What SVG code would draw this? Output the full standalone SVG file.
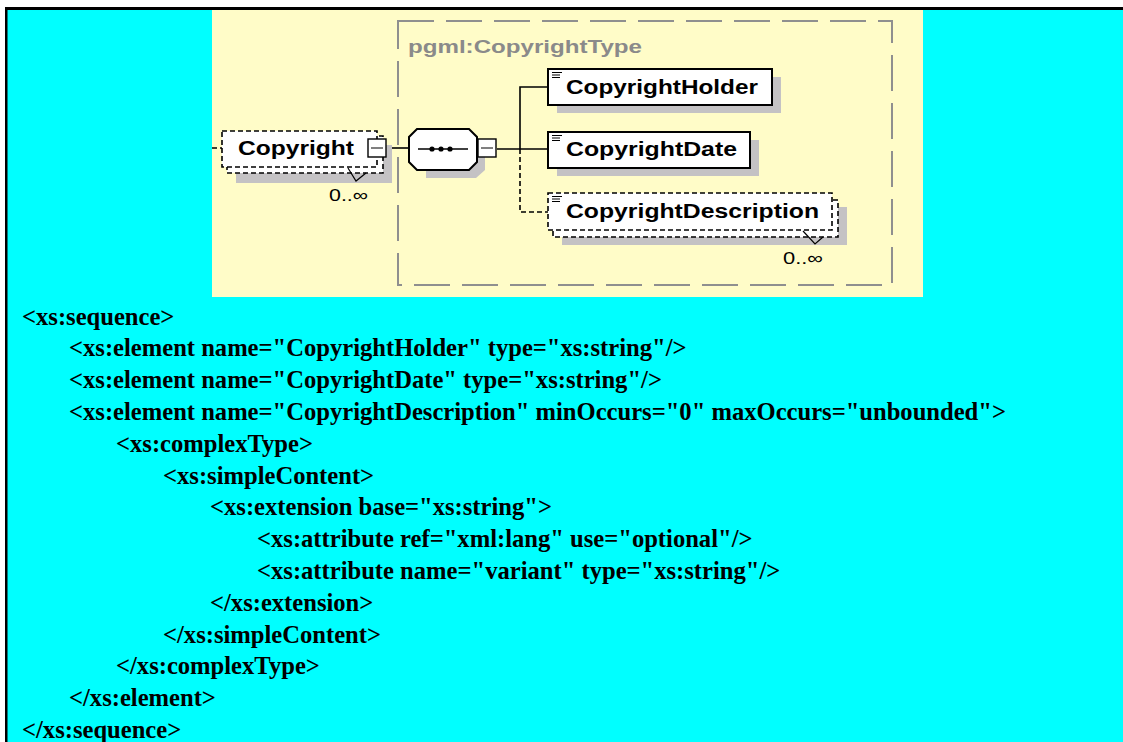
<svg xmlns="http://www.w3.org/2000/svg" width="1123" height="742" viewBox="0 0 1123 742">
  <style>
    .code { font-family: "Liberation Serif", "Times New Roman", serif; font-weight: bold; font-size: 24.6px; fill: #000; }
    .lbl { font-family: "Liberation Sans", Arial, sans-serif; font-weight: bold; font-size: 20px; fill: #000; }
    .occ { font-family: "Liberation Sans", Arial, sans-serif; font-size: 17px; fill: #000; }
    .grp { font-family: "Liberation Sans", Arial, sans-serif; font-weight: bold; font-size: 19px; fill: #8a8a8a; }
    .shadow { fill: #c4c2c4; }
    .box { fill: #fff; stroke: #000; stroke-width: 2; }
    .optbox { fill: #fff; stroke: #000; stroke-width: 1.6; stroke-dasharray: 5 3; }
    .wire { fill: none; stroke: #000; stroke-width: 1.6; }
    .wire-opt { fill: none; stroke: #000; stroke-width: 1.6; stroke-dasharray: 5 3; }
    .btn { fill: #fff; stroke: #000; stroke-width: 1.4; }
    .icon { stroke: #000; stroke-width: 1; }
  </style>

  <!-- page background and frame -->
  <rect x="0" y="0" width="1123" height="742" fill="#fff"/>
  <rect x="5" y="7" width="1118" height="735" fill="#00ffff"/>
  <rect x="5" y="7" width="1118" height="3" fill="#000"/>
  <rect x="5" y="7" width="2.5" height="735" fill="#000"/>

  <!-- schema diagram panel -->
  <rect x="212" y="10" width="711" height="287" fill="#fffcc8"/>

  <!-- complex type frame -->
  <g id="type-frame">
    <rect x="398" y="21" width="494" height="264" fill="none" stroke="#8f8f8f" stroke-width="2" stroke-dasharray="36 12"/>
    <text class="grp" x="408" y="53" textLength="234" lengthAdjust="spacingAndGlyphs">pgml:CopyrightType</text>
  </g>

  <!-- connectors -->
  <g id="connectors">
    <line class="wire-opt" x1="212" y1="148" x2="223" y2="148"/>
    <line class="wire" x1="386" y1="148" x2="409" y2="148"/>
    <line class="wire" x1="497" y1="149" x2="548" y2="149"/>
    <polyline class="wire" points="548,87 520,87 520,149"/>
    <polyline class="wire-opt" points="520,149 520,212 548,212"/>
  </g>

  <!-- Copyright element (0..unbounded, optional) -->
  <g id="node-copyright">
    <rect class="shadow" x="236" y="145" width="156" height="38"/>
    <rect class="optbox" x="227" y="136" width="156" height="37"/>
    <rect class="optbox" x="222" y="131" width="155" height="36"/>
    <polyline fill="none" stroke="#000" stroke-width="1.2" points="348,168 356,181 366,173"/>
    <text class="lbl" x="238" y="155" textLength="116" lengthAdjust="spacingAndGlyphs">Copyright</text>
    <rect class="btn" x="368" y="139" width="18" height="18"/>
    <line class="icon" x1="371" y1="148" x2="383" y2="148"/>
    <text class="occ" x="329" y="201" textLength="39" lengthAdjust="spacingAndGlyphs">0..∞</text>
  </g>

  <!-- sequence compositor -->
  <g id="node-sequence">
    <polygon class="shadow" points="426,137 477,137 485,145 485,170 476,178 426,178"/>
    <polygon class="box" points="417,129 469,129 477,137 477,162 469,170 417,170 409,162 409,137"/>
    <line x1="418" y1="149" x2="468" y2="149" stroke="#000" stroke-width="1.4"/>
    <circle cx="432" cy="149" r="2.6" fill="#000"/>
    <circle cx="441" cy="149" r="2.6" fill="#000"/>
    <circle cx="450" cy="149" r="2.6" fill="#000"/>
    <rect class="btn" x="478" y="139" width="18" height="18"/>
    <line class="icon" x1="481" y1="148" x2="493" y2="148"/>
  </g>

  <!-- CopyrightHolder element -->
  <g id="node-holder">
    <rect class="shadow" x="557" y="77" width="224" height="36"/>
    <rect class="box" x="548" y="69" width="224" height="36"/>
    <line class="icon" x1="552" y1="72.5" x2="562" y2="72.5"/>
    <line class="icon" x1="552" y1="75" x2="560" y2="75"/>
    <line class="icon" x1="552" y1="77.5" x2="560" y2="77.5"/>
    <text class="lbl" x="566" y="94" textLength="192" lengthAdjust="spacingAndGlyphs">CopyrightHolder</text>
  </g>

  <!-- CopyrightDate element -->
  <g id="node-date">
    <rect class="shadow" x="557" y="140" width="202" height="36"/>
    <rect class="box" x="548" y="132" width="202" height="36"/>
    <line class="icon" x1="552" y1="135.5" x2="562" y2="135.5"/>
    <line class="icon" x1="552" y1="138" x2="560" y2="138"/>
    <line class="icon" x1="552" y1="140.5" x2="560" y2="140.5"/>
    <text class="lbl" x="566" y="156" textLength="171" lengthAdjust="spacingAndGlyphs">CopyrightDate</text>
  </g>

  <!-- CopyrightDescription element (0..unbounded, optional) -->
  <g id="node-description">
    <rect class="shadow" x="562" y="207" width="285" height="38"/>
    <rect class="optbox" x="553" y="200" width="285" height="37"/>
    <rect class="optbox" x="548" y="193" width="284" height="37"/>
    <line class="icon" x1="552" y1="196.5" x2="562" y2="196.5"/>
    <line class="icon" x1="552" y1="199" x2="560" y2="199"/>
    <line class="icon" x1="552" y1="201.5" x2="560" y2="201.5"/>
    <polyline fill="none" stroke="#000" stroke-width="1.2" points="803,231 815,244 823,237"/>
    <text class="lbl" x="566" y="218" textLength="253" lengthAdjust="spacingAndGlyphs">CopyrightDescription</text>
    <text class="occ" x="783" y="264" textLength="40" lengthAdjust="spacingAndGlyphs">0..∞</text>
  </g>

  <!-- schema source listing -->
  <g id="source">
    <text class="code" x="22" y="324.5">&lt;xs:sequence&gt;</text>
    <text class="code" x="69" y="356.3">&lt;xs:element name="CopyrightHolder" type="xs:string"/&gt;</text>
    <text class="code" x="69" y="388.1">&lt;xs:element name="CopyrightDate" type="xs:string"/&gt;</text>
    <text class="code" x="69" y="419.9">&lt;xs:element name="CopyrightDescription" minOccurs="0" maxOccurs="unbounded"&gt;</text>
    <text class="code" x="116" y="451.7">&lt;xs:complexType&gt;</text>
    <text class="code" x="163" y="483.5">&lt;xs:simpleContent&gt;</text>
    <text class="code" x="210" y="515.3">&lt;xs:extension base="xs:string"&gt;</text>
    <text class="code" x="257" y="547.1">&lt;xs:attribute ref="xml:lang" use="optional"/&gt;</text>
    <text class="code" x="257" y="578.9">&lt;xs:attribute name="variant" type="xs:string"/&gt;</text>
    <text class="code" x="210" y="610.7">&lt;/xs:extension&gt;</text>
    <text class="code" x="163" y="642.5">&lt;/xs:simpleContent&gt;</text>
    <text class="code" x="116" y="674.3">&lt;/xs:complexType&gt;</text>
    <text class="code" x="69" y="706.1">&lt;/xs:element&gt;</text>
    <text class="code" x="22" y="737.9">&lt;/xs:sequence&gt;</text>
  </g>
</svg>
